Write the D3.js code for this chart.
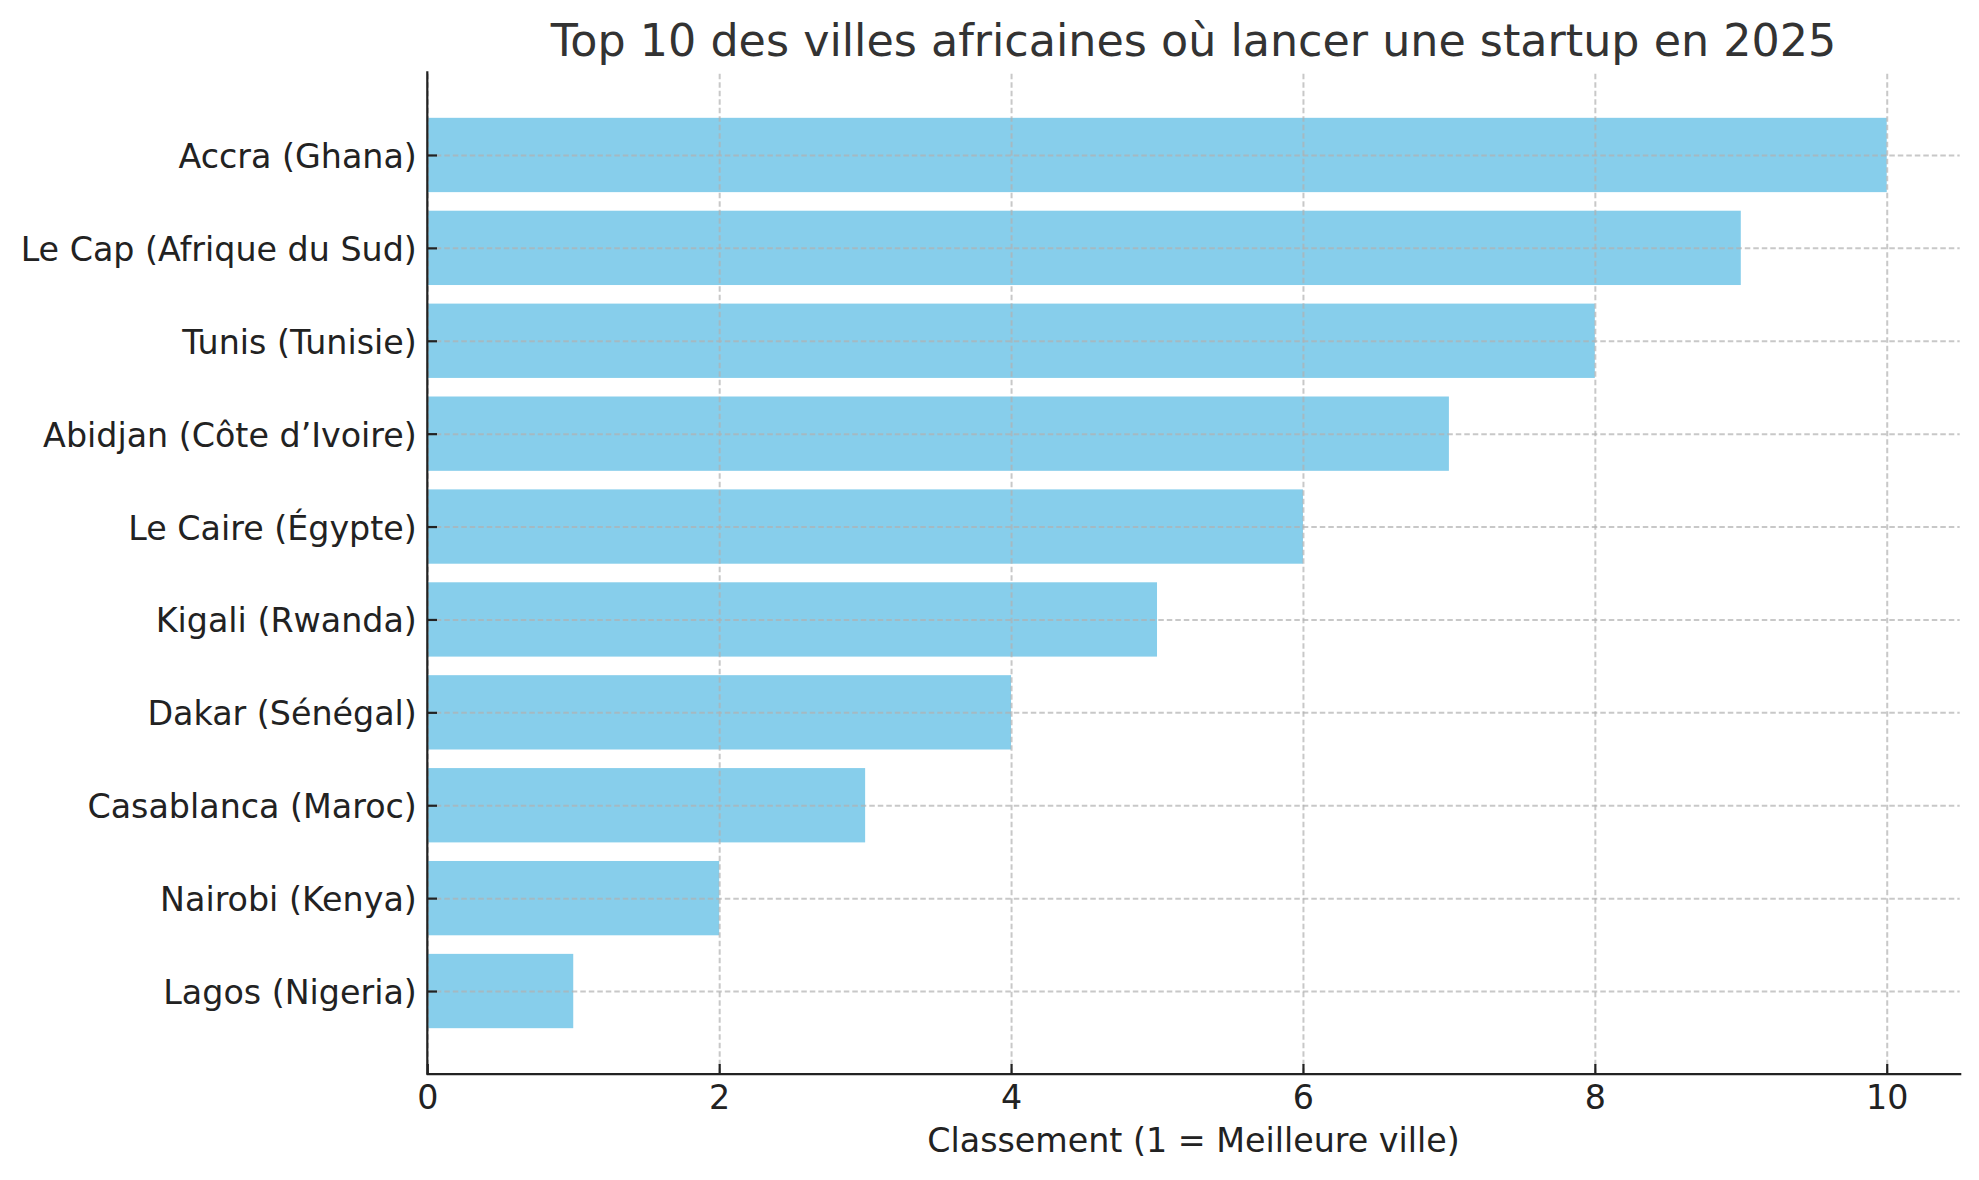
<!DOCTYPE html>
<html>
<head>
<meta charset="utf-8">
<script src="https://cdn.jsdelivr.net/npm/d3@7/dist/d3.min.js"></script>
<style>
  html, body { margin: 0; padding: 0; background: #fff; }
  svg { display: block; font-family: "DejaVu Sans", sans-serif; }
</style>
</head>
<body>
<svg id="chart" width="1979" height="1180"></svg>
<script>
// Data (top to bottom as displayed)
const cities = [
  "Accra (Ghana)",
  "Le Cap (Afrique du Sud)",
  "Tunis (Tunisie)",
  "Abidjan (Côte d’Ivoire)",
  "Le Caire (Égypte)",
  "Kigali (Rwanda)",
  "Dakar (Sénégal)",
  "Casablanca (Maroc)",
  "Nairobi (Kenya)",
  "Lagos (Nigeria)"
];
const rankValues = [10, 9, 8, 7, 6, 5, 4, 3, 2, 1];
const xTickValues = [0, 2, 4, 6, 8, 10];
const titleText = "Top 10 des villes africaines où lancer une startup en 2025";
const xLabelText = "Classement (1 = Meilleure ville)";

(function () {
const mLeft = 427.3, mRight = 1959.7, mTop = 72.3, mBottom = 1073.7;
const n = cities.length;

const svg = d3.select("#chart");

const x = d3.scaleLinear().domain([0, 10.5]).range([mLeft, mRight]);
// position index: bottom item (last) at 0, top item at n-1
const y = d3.scaleLinear().domain([-0.89, (n - 1) + 0.89]).range([mBottom, mTop]);
const pos = i => (n - 1 - i);
const barH = 0.8;

// Bars
svg.append("g").selectAll("rect")
  .data(rankValues)
  .join("rect")
  .attr("x", x(0))
  .attr("y", (d, i) => y(pos(i) + barH / 2))
  .attr("width", d => x(d) - x(0))
  .attr("height", (d, i) => y(pos(i) - barH / 2) - y(pos(i) + barH / 2))
  .attr("fill", "#87CEEB");

// Grid (above bars)
const gridColor = "#b0b0b0";
const gx = svg.append("g")
  .attr("transform", `translate(0,${mBottom})`)
  .call(d3.axisBottom(x).tickValues(xTickValues).tickSize(-(mBottom - mTop)).tickFormat(""));
gx.select(".domain").remove();
gx.selectAll("line").attr("stroke", gridColor).attr("stroke-opacity", 0.7)
  .attr("stroke-width", 2).attr("stroke-dasharray", "5.5,3");

const yCat = d3.scalePoint().domain(cities).range([y(n - 1), y(0)]);
const gy = svg.append("g")
  .attr("transform", `translate(${mLeft},0)`)
  .call(d3.axisLeft(yCat).tickSize(-(mRight - mLeft)).tickFormat(""));
gy.select(".domain").remove();
gy.selectAll("line").attr("stroke", gridColor).attr("stroke-opacity", 0.7)
  .attr("stroke-width", 2).attr("stroke-dasharray", "5.5,3");

// Axes
const axisColor = "#222222";
const ax = svg.append("g")
  .attr("transform", `translate(0,${mBottom})`)
  .call(d3.axisBottom(x).tickValues(xTickValues).tickSizeInner(-9.7).tickSizeOuter(0).tickPadding(0).tickFormat(d3.format("d")));
ax.select(".domain").attr("stroke", axisColor).attr("stroke-width", 2.2).attr("stroke-linecap", "square");
ax.selectAll(".tick line").attr("stroke", axisColor).attr("stroke-width", 2.2);
ax.selectAll(".tick text")
  .attr("fill", axisColor)
  .attr("font-size", "33.3px")
  .attr("font-family", "DejaVu Sans")
  .attr("y", 35)
  .attr("dy", null);

const ay = svg.append("g")
  .attr("transform", `translate(${mLeft},0)`)
  .call(d3.axisLeft(yCat).tickSizeInner(-9.7).tickSizeOuter(0).tickPadding(0));
ay.select(".domain").attr("d", `M0,${mTop}V${mBottom}`).attr("stroke", axisColor).attr("stroke-width", 2.2).attr("stroke-linecap", "square");
ay.selectAll(".tick line").attr("stroke", axisColor).attr("stroke-width", 2.2);
ay.selectAll(".tick text")
  .attr("fill", axisColor)
  .attr("font-size", "33.3px")
  .attr("font-family", "DejaVu Sans")
  .attr("x", -10.5)
  .attr("dy", "12.5");

// Title
svg.append("text")
  .attr("x", (mLeft + mRight) / 2)
  .attr("y", 56)
  .attr("text-anchor", "middle")
  .attr("font-size", "44.4px")
  .attr("fill", "#333333")
  .text(titleText);

// X label
svg.append("text")
  .attr("x", (mLeft + mRight) / 2)
  .attr("y", 1152)
  .attr("text-anchor", "middle")
  .attr("font-size", "33.3px")
  .attr("fill", axisColor)
  .text(xLabelText);
})();
</script>
</body>
</html>
